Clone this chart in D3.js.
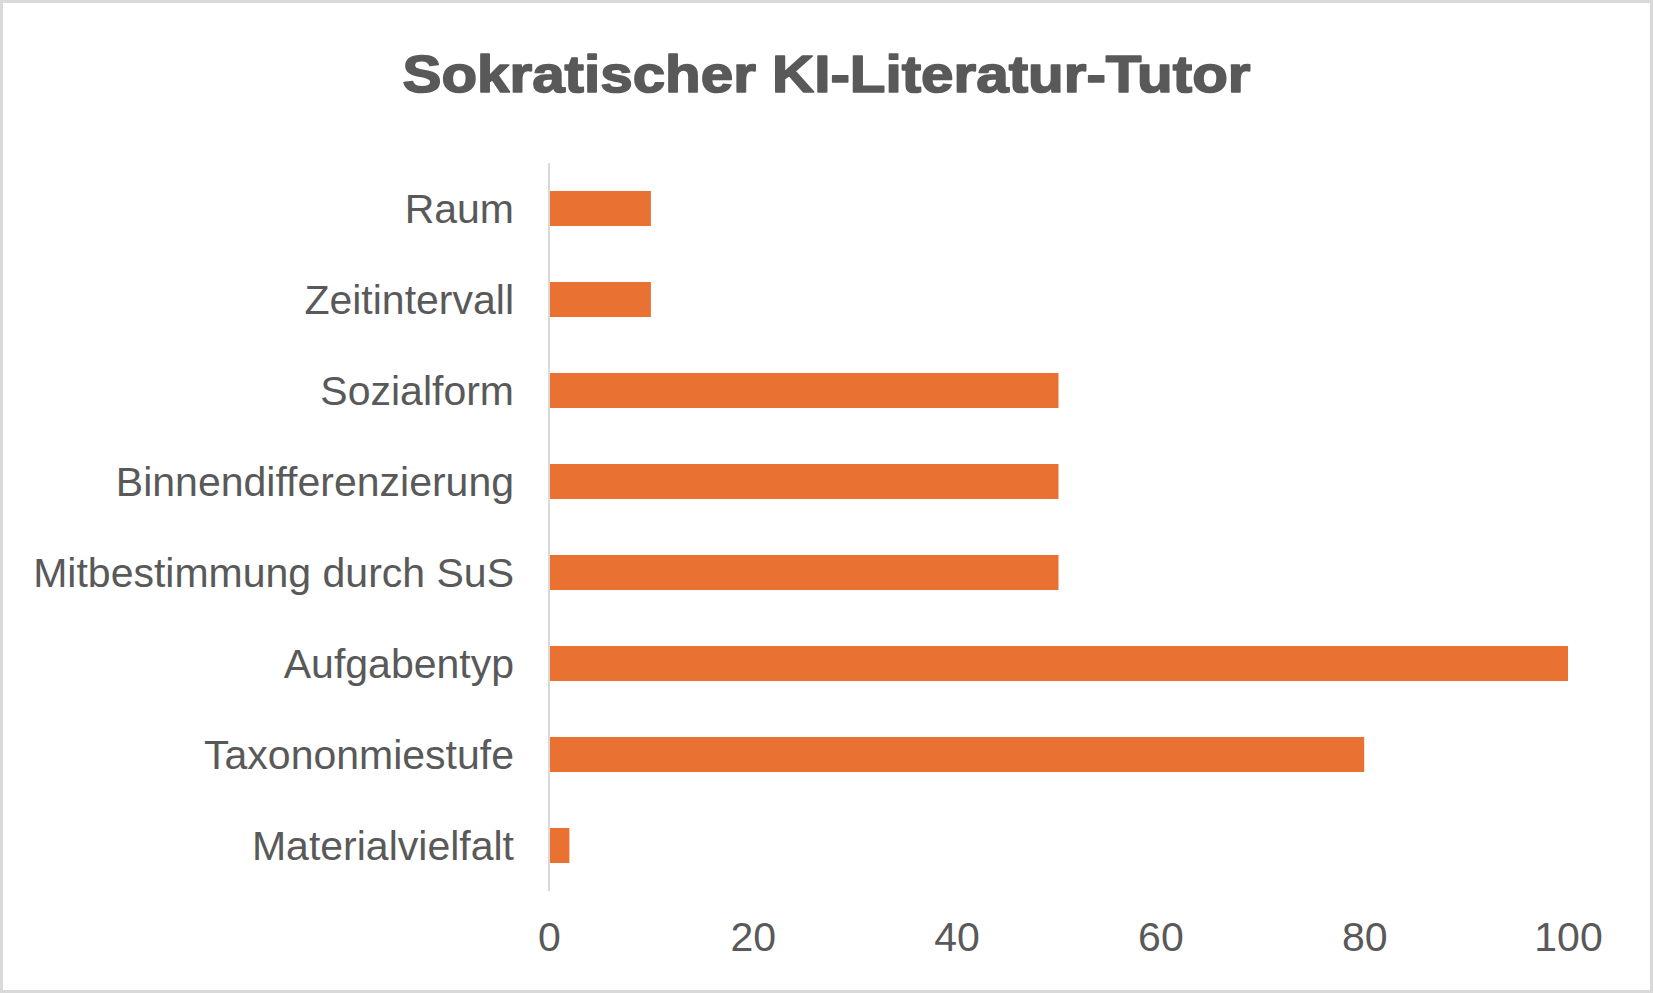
<!DOCTYPE html>
<html>
<head>
<meta charset="utf-8">
<script src="https://cdn.jsdelivr.net/npm/d3@7"></script>
<style>
  html, body { margin: 0; padding: 0; background: #fff; }
  svg { display: block; }
</style>
</head>
<body>
<svg id="chart" width="1653" height="993"></svg>
<script>
const title = "Sokratischer KI-Literatur-Tutor";
const categories = ["Raum", "Zeitintervall", "Sozialform", "Binnendifferenzierung",
  "Mitbestimmung durch SuS", "Aufgabentyp", "Taxononmiestufe", "Materialvielfalt"];
const values = [10, 10, 50, 50, 50, 100, 80, 2];
const xTicks = [0, 20, 40, 60, 80, 100];

const W = 1653, H = 993;
const svg = d3.select("#chart");
const textColor = "#595959";
const barColor = "#E97132";
const fontFamily = "'Liberation Sans', Arial, sans-serif";

// frame
svg.append("rect").attr("x", 1.5).attr("y", 1.5).attr("width", W - 3).attr("height", H - 3)
  .attr("fill", "#fff").attr("stroke", "#d9d9d9").attr("stroke-width", 3);

const x = d3.scaleLinear().domain([0, 100]).range([549, 1568]);
const y = d3.scaleBand().domain(categories).range([163, 891])
  .paddingInner(0.615).paddingOuter(0.3075);

// title
const t = svg.append("text").attr("x", W / 2).attr("y", 92)
  .attr("text-anchor", "middle")
  .attr("font-family", fontFamily).attr("font-weight", "bold")
  .attr("font-size", 52).attr("fill", textColor)
  .attr("stroke", textColor).attr("stroke-width", 1.6).attr("stroke-linejoin", "round")
  .text(title);
t.attr("textLength", 848).attr("lengthAdjust", "spacingAndGlyphs");

// bars
const data = categories.map((c, i) => ({ c, v: values[i] }));
svg.append("g").selectAll("rect").data(data).join("rect")
  .attr("x", x(0) + 1)
  .attr("y", d => y(d.c))
  .attr("width", d => x(d.v) - x(0) - 1)
  .attr("height", y.bandwidth())
  .attr("fill", barColor);

// y axis
const yAxis = svg.append("g").attr("transform", `translate(${x(0)},0)`)
  .call(d3.axisLeft(y).tickSize(0).tickPadding(35));
yAxis.select(".domain").attr("stroke", "#d9d9d9").attr("stroke-width", 2)
  .attr("d", `M0,163V891`);
yAxis.selectAll("text").attr("font-family", fontFamily).attr("font-size", 41)
  .attr("fill", textColor).attr("dy", "0.36em");

// x axis (labels only)
const xAxis = svg.append("g").attr("transform", `translate(0,891)`)
  .call(d3.axisBottom(x).tickValues(xTicks).tickSize(0).tickPadding(31).tickFormat(d3.format("d")));
xAxis.select(".domain").remove();
xAxis.selectAll("text").attr("font-family", fontFamily).attr("font-size", 41)
  .attr("fill", textColor);
</script>
</body>
</html>
